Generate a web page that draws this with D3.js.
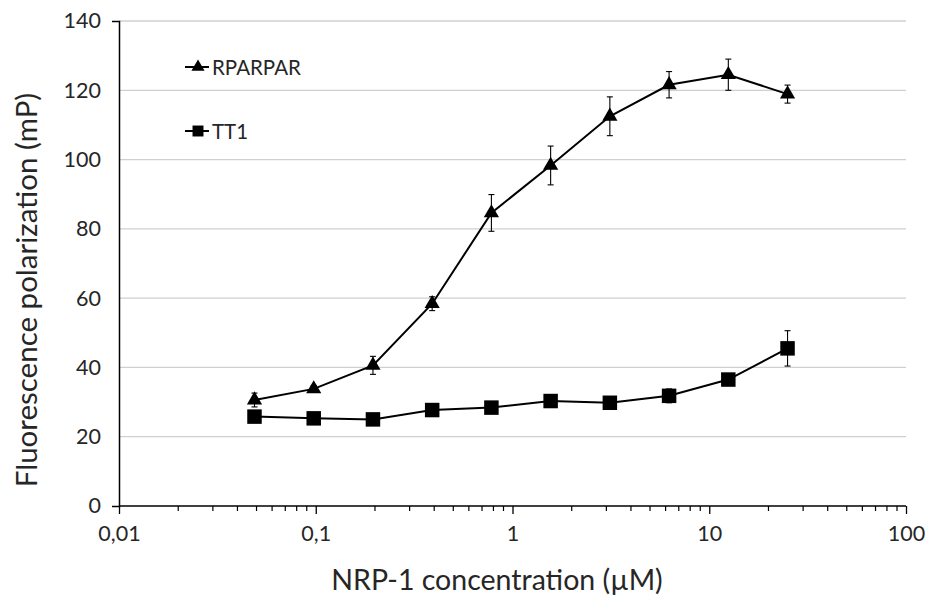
<!DOCTYPE html>
<html>
<head>
<meta charset="utf-8">
<script src="https://cdn.jsdelivr.net/npm/d3@7"></script>
<style>
  html, body { margin: 0; padding: 0; background: #fff; }
  svg { display: block; }
  text { font-family: Lato, "Open Sans", sans-serif; fill: #262626; }
</style>
</head>
<body>
<svg id="chart" width="926" height="600"></svg>
<script>
// ---- data ----
const concentrations = [0.048828125, 0.09765625, 0.1953125, 0.390625, 0.78125, 1.5625, 3.125, 6.25, 12.5, 25];
const rparparValues = [30.6, 33.8, 40.6, 58.4, 84.6, 98.3, 112.5, 121.6, 124.5, 118.9];
const rparparErrors = [2.0, 1.0, 2.6, 2.0, 5.3, 5.6, 5.6, 3.8, 4.5, 2.6];
const tt1Values = [25.8, 25.3, 25.0, 27.7, 28.4, 30.3, 29.8, 31.8, 36.5, 45.5];
const tt1Errors = [0.8, 0.8, 0.8, 0.8, 0.8, 0.8, 0.8, 2.0, 1.6, 5.1];
const seriesNames = ["RPARPAR", "TT1"];
const xTickValues = [0.01, 0.1, 1, 10, 100];
const xTickLabels = ["0,01", "0,1", "1", "10", "100"];
const yTickValues = [0, 20, 40, 60, 80, 100, 120, 140];
const xTitle = "NRP-1 concentration (µM)";
const yTitle = "Fluorescence polarization (mP)";

// ---- layout ----
const svg = d3.select("#chart");
const mLeft = 119, mRight = 906, mTop = 21, mBottom = 506;

const x = d3.scaleLog().domain([0.01, 100]).range([mLeft, mRight]);
const y = d3.scaleLinear().domain([0, 140]).range([mBottom, mTop]);

// gridlines
svg.append("g").selectAll("line")
  .data(yTickValues.filter(v => v > 0))
  .join("line")
  .attr("x1", mLeft).attr("x2", mRight)
  .attr("y1", d => y(d)).attr("y2", d => y(d))
  .attr("stroke", "#d0d0d0").attr("stroke-width", 1.3);

// y axis
const yAxis = d3.axisLeft(y).tickValues(yTickValues).tickSize(7).tickPadding(11).tickFormat(d3.format("d"));
const gy = svg.append("g").attr("transform", `translate(${mLeft},0)`).call(yAxis);
gy.select(".domain").attr("stroke", "#000").attr("stroke-width", 1.5);
gy.selectAll(".tick line").attr("x1", -7).attr("stroke", "#000").attr("stroke-width", 1.3);
gy.selectAll(".tick text").attr("font-size", 21.5).attr("fill", "#262626")
  .attr("font-family", "Lato, 'Open Sans', sans-serif");

// x axis minor ticks
const minorTicks = [];
for (let dec = 0.01; dec < 100; dec *= 10) {
  for (let k = 2; k <= 9; k++) minorTicks.push(+(dec * k).toPrecision(3));
}
svg.append("g").selectAll("line")
  .data(minorTicks)
  .join("line")
  .attr("x1", d => x(d)).attr("x2", d => x(d))
  .attr("y1", mBottom).attr("y2", mBottom + 5)
  .attr("stroke", "#000").attr("stroke-width", 1.2);

// x axis
const xAxis = d3.axisBottom(x).tickValues(xTickValues).tickSize(8).tickPadding(12)
  .tickFormat((d, i) => xTickLabels[i]);
const gx = svg.append("g").attr("transform", `translate(0,${mBottom})`).call(xAxis);
gx.select(".domain").attr("stroke", "#000").attr("stroke-width", 1.5).attr("d", `M${mLeft},0H${mRight}`);
gx.selectAll(".tick line").attr("stroke", "#000").attr("stroke-width", 1.3);
gx.selectAll(".tick text").attr("font-size", 21.5).attr("fill", "#262626")
  .attr("font-family", "Lato, 'Open Sans', sans-serif");

// axis titles
svg.append("text")
  .attr("x", 497).attr("y", 590)
  .attr("text-anchor", "middle").attr("font-size", 28.5)
  .text(xTitle);
svg.append("text")
  .attr("transform", `translate(37,290) rotate(-90)`)
  .attr("text-anchor", "middle").attr("font-size", 29.5)
  .text(yTitle);

// series
const series = [
  { name: seriesNames[0], values: rparparValues, errors: rparparErrors, symbol: d3.symbolTriangle, size: 100 },
  { name: seriesNames[1], values: tt1Values, errors: tt1Errors, symbol: d3.symbolSquare, size: 210 }
];

const line = d3.line().x(d => x(d.c)).y(d => y(d.v));

series.forEach(s => {
  const pts = concentrations.map((c, i) => ({ c, v: s.values[i], e: s.errors[i] }));
  const g = svg.append("g");
  const eb = g.append("g").selectAll("g").data(pts).join("g");
  eb.append("line")
    .attr("x1", d => x(d.c)).attr("x2", d => x(d.c))
    .attr("y1", d => y(d.v + d.e)).attr("y2", d => y(d.v - d.e))
    .attr("stroke", "#000").attr("stroke-width", 1.1);
  eb.append("line")
    .attr("x1", d => x(d.c) - 3).attr("x2", d => x(d.c) + 3)
    .attr("y1", d => y(d.v + d.e)).attr("y2", d => y(d.v + d.e))
    .attr("stroke", "#000").attr("stroke-width", 1.1);
  eb.append("line")
    .attr("x1", d => x(d.c) - 3).attr("x2", d => x(d.c) + 3)
    .attr("y1", d => y(d.v - d.e)).attr("y2", d => y(d.v - d.e))
    .attr("stroke", "#000").attr("stroke-width", 1.1);
  g.append("path").datum(pts).attr("d", line)
    .attr("fill", "none").attr("stroke", "#000").attr("stroke-width", 2);
  g.append("g").selectAll("path").data(pts).join("path")
    .attr("transform", d => `translate(${x(d.c)},${y(d.v)})`)
    .attr("d", d3.symbol().type(s.symbol).size(s.size))
    .attr("fill", "#000");
});

// legend
const legendY = [67, 131];
series.forEach((s, i) => {
  const g = svg.append("g").attr("transform", `translate(185,${legendY[i]})`);
  g.append("line").attr("x1", 0).attr("x2", 24).attr("y1", 0).attr("y2", 0)
    .attr("stroke", "#000").attr("stroke-width", 2);
  g.append("path").attr("transform", "translate(13,0)")
    .attr("d", d3.symbol().type(s.symbol).size(i === 0 ? 75 : 120)).attr("fill", "#000");
  g.append("text").attr("x", 27).attr("y", 7.5).attr("font-size", 20.5).text(s.name);
});
</script>
</body>
</html>
